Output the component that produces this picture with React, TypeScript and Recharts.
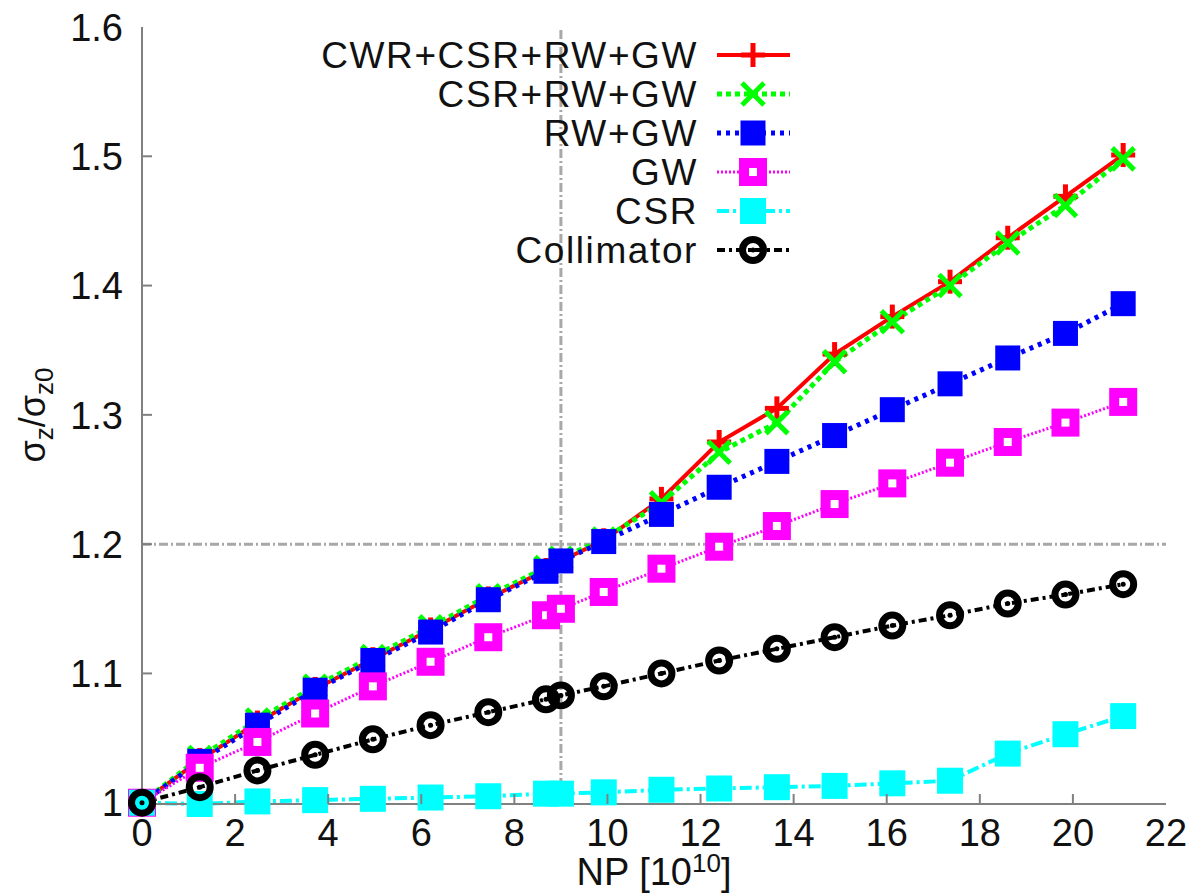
import { LineChart, Line, XAxis, YAxis, ReferenceLine, Legend } from "recharts";

const np = [0, 1.24, 2.48, 3.72, 4.96, 6.2, 7.44, 8.68, 9.0, 9.92, 11.16, 12.4, 13.64, 14.88, 16.12, 17.36, 18.6, 19.84, 21.08];
const cwrCsrRwGw = [1.0, 1.033, 1.062, 1.088, 1.111, 1.134, 1.158, 1.18, 1.187, 1.203, 1.235, 1.279, 1.305, 1.347, 1.376, 1.403, 1.437, 1.469, 1.501];
const csrRwGw = [1.0, 1.035, 1.064, 1.09, 1.113, 1.136, 1.16, 1.182, 1.189, 1.204, 1.232, 1.271, 1.294, 1.341, 1.372, 1.4, 1.433, 1.462, 1.498];
const rwGw = [1.0, 1.032, 1.06, 1.087, 1.11, 1.132, 1.157, 1.179, 1.187, 1.202, 1.223, 1.244, 1.264, 1.284, 1.304, 1.324, 1.344, 1.363, 1.386];
const gw = [1.0, 1.027, 1.047, 1.069, 1.09, 1.109, 1.128, 1.145, 1.15, 1.163, 1.181, 1.198, 1.214, 1.231, 1.247, 1.263, 1.279, 1.294, 1.31];
const csr = [1.0, 0.999, 1.001, 1.002, 1.003, 1.004, 1.005, 1.007, 1.007, 1.008, 1.01, 1.011, 1.012, 1.013, 1.015, 1.017, 1.038, 1.053, 1.067];
const collimator = [1.0, 1.012, 1.025, 1.037, 1.049, 1.06, 1.07, 1.08, 1.083, 1.09, 1.1, 1.11, 1.119, 1.128, 1.137, 1.145, 1.154, 1.161, 1.169];

const xTicks = [0, 2, 4, 6, 8, 10, 12, 14, 16, 18, 20, 22];
const yTicks = [1, 1.1, 1.2, 1.3, 1.4, 1.5, 1.6];

const data = np.map((x, i) => ({
  x,
  cwr: cwrCsrRwGw[i],
  csrRw: csrRwGw[i],
  rw: rwGw[i],
  gw: gw[i],
  csr: csr[i],
  col: collimator[i],
}));

const FONT = "'Liberation Sans', Arial, Helvetica, sans-serif";
const FRAME = "#808080";

// point shapes, gnuplot style
const Plus = ({ cx, cy }: any) => (
  <g stroke="#ff0000" strokeWidth={5}>
    <line x1={cx - 12} x2={cx + 12} y1={cy} y2={cy} />
    <line x1={cx} x2={cx} y1={cy - 12} y2={cy + 12} />
  </g>
);
const Cross = ({ cx, cy }: any) => (
  <g stroke="#00ff00" strokeWidth={5}>
    <line x1={cx - 11} x2={cx + 11} y1={cy - 11} y2={cy + 11} />
    <line x1={cx - 11} x2={cx + 11} y1={cy + 11} y2={cy - 11} />
  </g>
);
const FillSquare = ({ cx, cy, color, size }: any) => (
  <rect x={cx - size / 2} y={cy - size / 2} width={size} height={size} fill={color} />
);
const OpenSquare = ({ cx, cy }: any) => (
  <g>
    <rect x={cx - 14} y={cy - 14} width={28} height={28} fill="#ff00ff" />
    <rect x={cx - 4} y={cy - 4} width={8} height={8} fill="#ffffff" />
  </g>
);
const Ring = ({ cx, cy }: any) => (
  <g>
    <circle cx={cx} cy={cy} r={10.5} fill="none" stroke="#000000" strokeWidth={7} />
    <circle cx={cx} cy={cy} r={2.5} fill="#000000" />
  </g>
);

const series = [
  { key: "cwr", name: "CWR+CSR+RW+GW", color: "#ff0000", width: 4, dash: undefined, mark: (p: any) => <Plus {...p} /> },
  { key: "csrRw", name: "CSR+RW+GW", color: "#00ff00", width: 5, dash: "5 4", mark: (p: any) => <Cross {...p} /> },
  { key: "rw", name: "RW+GW", color: "#0000ff", width: 5, dash: "4 5", mark: (p: any) => <FillSquare {...p} color="#0000ff" size={25} /> },
  { key: "gw", name: "GW", color: "#ff00ff", width: 3, dash: "2 2", mark: (p: any) => <OpenSquare {...p} /> },
  { key: "csr", name: "CSR", color: "#00ffff", width: 4, dash: "12 4 3 4", mark: (p: any) => <FillSquare {...p} color="#00ffff" size={26} /> },
  { key: "col", name: "Collimator", color: "#000000", width: 4, dash: "8 4 3 4", mark: (p: any) => <Ring {...p} /> },
];

const fmtY = (v: number) => (v === 1 ? "1" : v.toFixed(1));

const LeftTick = ({ x, y, payload }: any) => (
  <g>
    {payload.value !== 1 && payload.value !== 1.6 && (
      <line x1={x} x2={x + 10} y1={y} y2={y} stroke={FRAME} strokeWidth={2} />
    )}
    <text x={x - 19} y={y} dy="0.36em" textAnchor="end" fontSize={38} fontFamily={FONT} fill="#111">
      {fmtY(payload.value)}
    </text>
  </g>
);
const RightTick = ({ x, y, payload }: any) =>
  payload.value !== 1 && payload.value !== 1.6 ? (
    <line x1={x} x2={x - 10} y1={y} y2={y} stroke={FRAME} strokeWidth={2} />
  ) : (
    <g />
  );
const BottomTick = ({ x, y, payload }: any) => (
  <g>
    {payload.value !== 0 && payload.value !== 22 && (
      <line x1={x} x2={x} y1={y} y2={y - 10} stroke={FRAME} strokeWidth={2} />
    )}
    <text x={x} y={y + 42} textAnchor="middle" fontSize={38} fontFamily={FONT} fill="#111">
      {payload.value}
    </text>
  </g>
);
const TopTick = ({ x, y, payload }: any) =>
  payload.value !== 0 && payload.value !== 22 ? (
    <line x1={x} x2={x} y1={y} y2={y + 10} stroke={FRAME} strokeWidth={2} />
  ) : (
    <g />
  );

const KeyBox = () => (
  <svg width={540} height={280} style={{ overflow: "visible", position: "absolute", left: 0, top: 0 }}>
    {series.map((s, i) => {
      const cy = 55 + i * 39;
      return (
        <g key={s.key}>
          <text
            x={418}
            y={cy}
            dy="0.36em"
            textAnchor="end"
            fontSize={37}
            letterSpacing={1.6}
            fontFamily={FONT}
            fill="#111"
          >
            {s.name}
          </text>
          <line x1={437} x2={510} y1={cy} y2={cy} stroke={s.color} strokeWidth={s.width} strokeDasharray={s.dash} />
          {s.mark({ cx: 473, cy })}
        </g>
      );
    })}
  </svg>
);

const XTitle = ({ viewBox }: any) => (
  <text
    x={viewBox.x + viewBox.width / 2}
    y={viewBox.y + 81}
    textAnchor="middle"
    fontSize={38}
    fontFamily={FONT}
    fill="#111"
  >
    NP [10
    <tspan dy={-13} fontSize={26}>10</tspan>
    <tspan dy={13}>]</tspan>
  </text>
);
const YTitle = () => (
  <text
    x={32}
    y={415}
    transform="rotate(-90, 32, 415)"
    textAnchor="middle"
    dy="0.36em"
    fontSize={36}
    fontFamily={FONT}
    fill="#111"
  >
    σ<tspan dy={8} fontSize={26}>z</tspan>
    <tspan dy={-8}>/σ</tspan>
    <tspan dy={8} fontSize={26}>z0</tspan>
  </text>
);

export default function App() {
  return (
    <div style={{ position: "absolute", left: 0, top: 0, width: 1198, height: 895, background: "#fff" }}>
      <LineChart width={1198} height={895} data={data} margin={{ top: 27, right: 32, left: 0, bottom: 0 }}>
        <XAxis
          dataKey="x"
          type="number"
          domain={[0, 22]}
          ticks={xTicks}
          height={91}
          tickSize={0}
          tickMargin={0}
          tick={<BottomTick />}
          axisLine={{ stroke: FRAME, strokeWidth: 2 }}
          interval={0}
          label={<XTitle />}
        />
        <XAxis
          xAxisId="top"
          orientation="top"
          dataKey="x"
          type="number"
          domain={[0, 22]}
          ticks={xTicks}
          height={0}
          tickSize={0}
          tickMargin={0}
          tick={<TopTick />}
          axisLine={{ stroke: FRAME, strokeWidth: 2 }}
          interval={0}
        />
        <YAxis
          type="number"
          domain={[1, 1.6]}
          ticks={yTicks}
          width={142}
          tickSize={0}
          tickMargin={0}
          tick={<LeftTick />}
          axisLine={{ stroke: FRAME, strokeWidth: 2 }}
          interval={0}
          label={<YTitle />}
        />
        <YAxis
          yAxisId="right"
          orientation="right"
          type="number"
          domain={[1, 1.6]}
          ticks={yTicks}
          width={0}
          tickSize={0}
          tickMargin={0}
          tick={<RightTick />}
          axisLine={{ stroke: FRAME, strokeWidth: 2 }}
          interval={0}
        />
        <ReferenceLine x={9.0} stroke="#a8a8a8" strokeWidth={3} strokeDasharray="9 3 2 3" />
        <ReferenceLine y={1.2} stroke="#a8a8a8" strokeWidth={3} strokeDasharray="9 3 2 3" />
        {series.map((s) => (
          <Line
            key={s.key}
            dataKey={s.key}
            name={s.name}
            type="linear"
            stroke={s.color}
            strokeWidth={s.width}
            strokeDasharray={s.dash}
            dot={(p: any) => <g key={`${s.key}-${p.index}`}>{s.mark(p)}</g>}
            activeDot={false}
            isAnimationActive={false}
          />
        ))}
        <Legend
          layout="vertical"
          align="center"
          verticalAlign="middle"
          content={() => <KeyBox />}
          wrapperStyle={{ position: "absolute", left: 280, top: 0, width: 0, height: 0, overflow: "visible" }}
        />
      </LineChart>
    </div>
  );
}
